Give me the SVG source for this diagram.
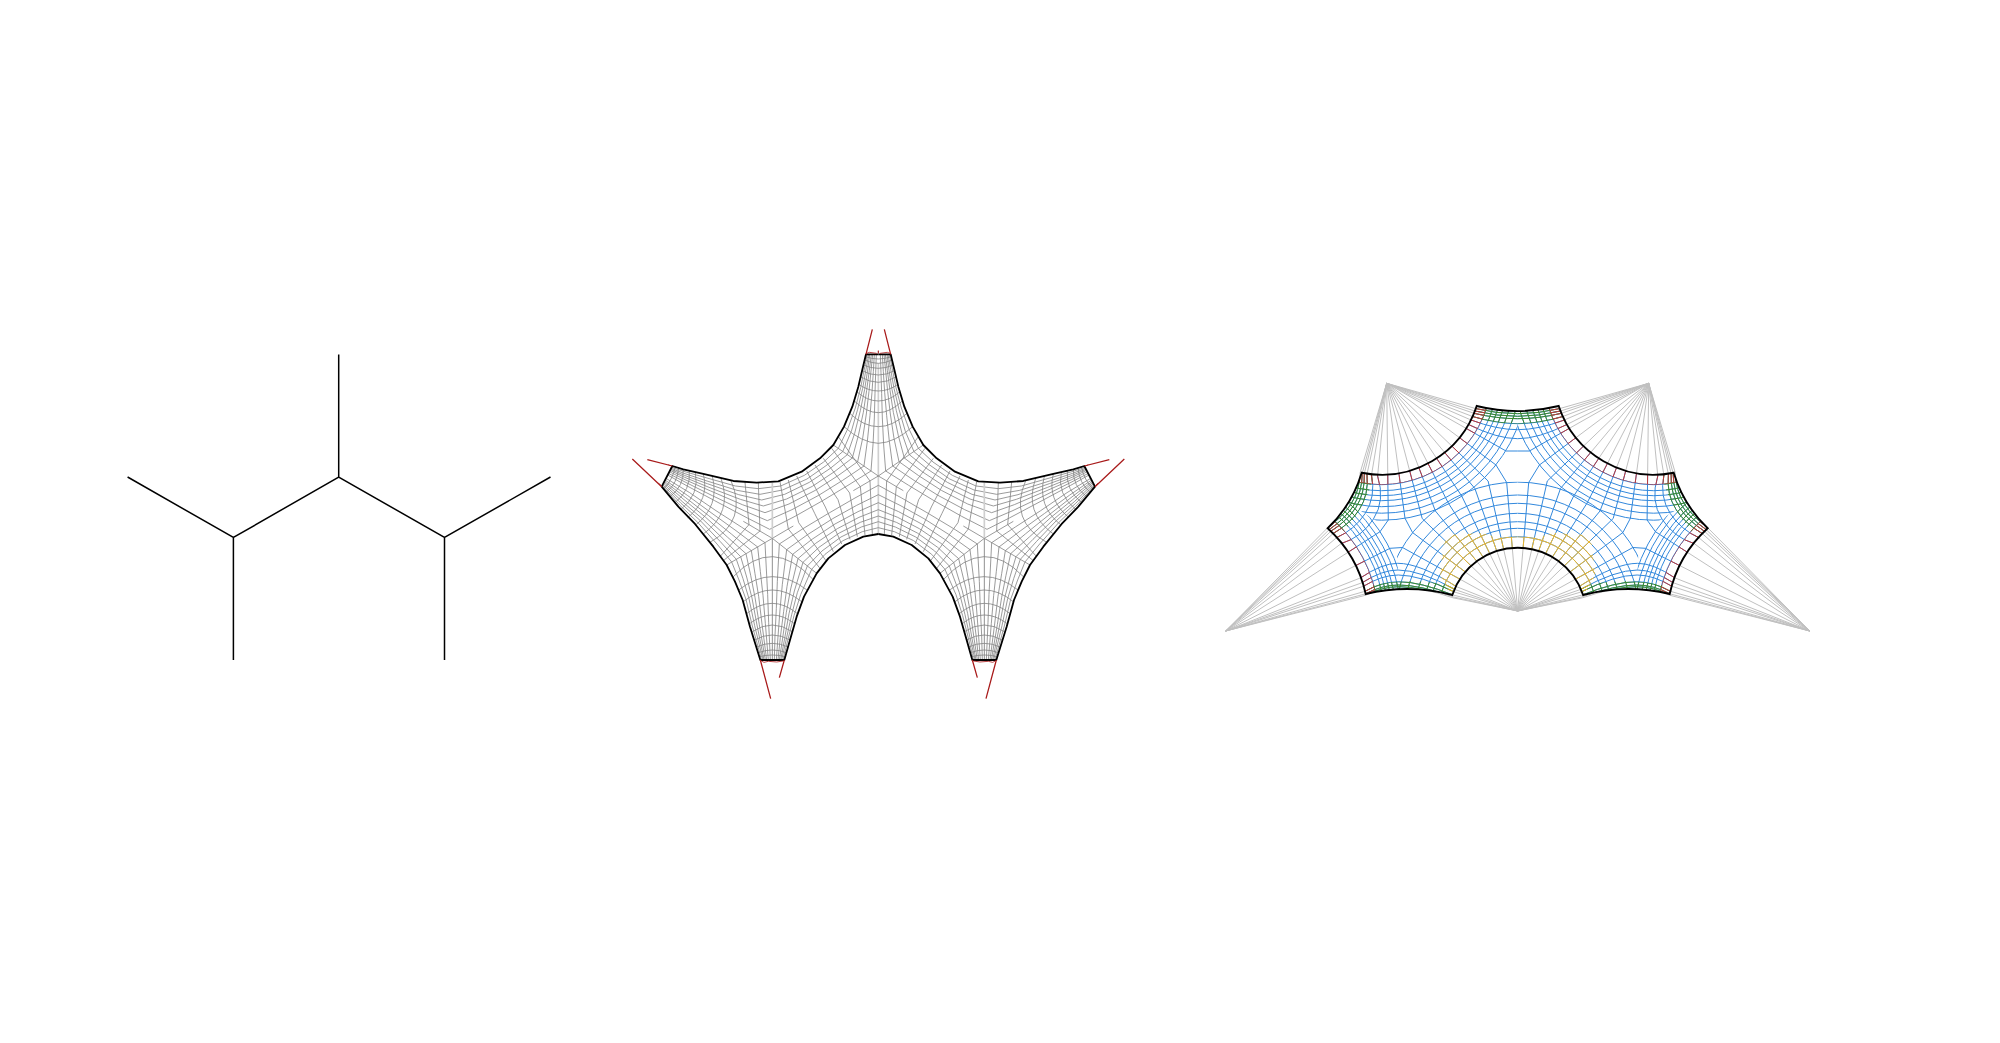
<svg xmlns="http://www.w3.org/2000/svg" width="2000" height="1043" viewBox="0 0 2000 1043">
<style>
.n{fill:none}
.tree{fill:none;stroke:#000;stroke-width:1.5}
.m2{fill:none;stroke:#828282;stroke-width:2.4;stroke-linejoin:round}
.ax{fill:none;stroke:#cfcfcf;stroke-width:5}
.ax2{fill:none;stroke:#808080;stroke-width:2.6}
.ol{fill:none;stroke:#000;stroke-width:5.4;stroke-linejoin:round}
.rd{fill:none;stroke:#a81a1a;stroke-width:3.8}
.rd2{fill:none;stroke:#a81a1a;stroke-width:2.4}
.ol3{fill:none;stroke:#000;stroke-width:1.9}
</style>
<defs>
<path id="dom" d="M1476.7,406A170.6,170.6 0 0 0 1558.7,406A100,100 0 0 0 1673.7,472.7A128,128 0 0 0 1707.7,528.3A125,125 0 0 0 1669.7,594A175.5,175.5 0 0 0 1583.1,595A68.9,68.9 0 0 0 1452.3,595A175.5,175.5 0 0 0 1365.7,594A125,125 0 0 0 1327.7,528.3A128,128 0 0 0 1361.7,472.7A100,100 0 0 0 1476.7,406Z"/>
<clipPath id="cDom"><use href="#dom"/></clipPath>
<clipPath id="cUL"><polygon points="1348.3,502.7 1384,526 1388,521 1405.5,519.3 1409,526 1455,505 1501.3,473.5 1496,466 1506,452 1517.7,452 1517.7,300 1280,300 1280,450"/></clipPath>
<clipPath id="cL"><polygon points="1348.3,502.7 1384,526 1381,531 1391,548.6 1396.7,548.6 1399,589.4 1399,700 1180,700 1180,450"/></clipPath>
<clipPath id="cI"><polygon points="1399,589.4 1396.7,548.3 1402,546.5 1411.5,532 1409,526 1451,497 1501.3,473.5 1506.7,481.5 1517.7,481.5 1517.7,700 1399,700"/></clipPath>
<clipPath id="cGreen">
<path clip-rule="evenodd" d="M1347.1,240.4a170.6,170.6 0 1 0 341.2,0a170.6,170.6 0 1 0 -341.2,0ZM1334.7,240.4a183,183 0 1 0 366,0a183,183 0 1 0 -366,0Z"/>
<path clip-rule="evenodd" d="M1110.2,438.3a128,128 0 1 0 256,0a128,128 0 1 0 -256,0ZM1097.2,438.3a141,141 0 1 0 282,0a141,141 0 1 0 -282,0Z"/>
<path clip-rule="evenodd" d="M1235.3,764.6a175.5,175.5 0 1 0 351,0a175.5,175.5 0 1 0 -351,0ZM1227.3,764.6a183.5,183.5 0 1 0 367,0a183.5,183.5 0 1 0 -367,0Z"/>
</clipPath>
<clipPath id="cRed">
<path clip-rule="evenodd" d="M1281.7,374.7a100,100 0 1 0 200,0a100,100 0 1 0 -200,0ZM1271.7,374.7a110,110 0 1 0 220,0a110,110 0 1 0 -220,0Z"/>
<path clip-rule="evenodd" d="M1118.6,620.8a125,125 0 1 0 250,0a125,125 0 1 0 -250,0ZM1108.6,620.8a135,135 0 1 0 270,0a135,135 0 1 0 -270,0Z"/>
</clipPath>
<clipPath id="cYel"><polygon points="1449.3,535 1480,533 1500,537.5 1517.7,536.5 1517.7,570 1470,605 1451.7,596 1440,575 1444,541.7"/></clipPath>
<g id="cross3" class="n">
<path d="M1386.7,383.3L1475.8,408.6Q1497,413.7 1517.7,413.7M1386.7,383.3L1474.9,411Q1497,416.3 1517.7,416.3M1386.7,383.3L1474,413.3Q1497,418.7 1517.7,418.7M1386.7,383.3L1472.5,416.5Q1497,423.7 1517.7,423.7M1386.7,383.3L1471,420Q1497,429.7 1517.7,429.7M1386.7,383.3L1468.5,424.5Q1497,438.7 1517.7,438.7M1386.7,383.3L1506,451L1517.7,451"/>
<path d="M1386.7,383.3L1405,518.3L1412.5,532.5L1517.7,611M1386.7,383.3L1422.2,518.5L1517.7,611M1386.7,383.3L1435.4,511L1517.7,611M1386.7,383.3L1448.6,503.5L1517.7,611M1386.7,383.3L1461.7,496L1517.7,611M1386.7,383.3L1474.9,488.5L1517.7,611M1386.7,383.3L1488.1,481L1517.7,611M1386.7,383.3L1496,465L1506.7,482.5L1517.7,611"/>
<path d="M1386.7,383.3L1360.2,472.5Q1359.6,490.9 1350.8,504.3Q1342.6,516.9 1327.4,528L1225.7,631M1386.7,383.3L1362.3,473Q1362,492.6 1353.3,506Q1345.1,518.6 1329.2,529.6L1225.7,631M1386.7,383.3L1364.3,473.5Q1365.1,493.4 1355.8,507.6Q1347,521 1330.8,531.3L1225.7,631M1386.7,383.3L1367,474.1Q1369,494.7 1359.2,509.8Q1349.9,524 1332.9,533.7L1225.7,631M1386.7,383.3L1371.5,475.1Q1376,496.8 1365.1,513.6Q1354.7,529.5 1336.4,537.8L1225.7,631M1386.7,383.3L1377.6,475.9Q1385.4,500.7 1373.4,519.1Q1361.4,537.5 1341.1,543.6L1225.7,631M1386.7,383.3L1388.3,520L1380,531.7L1225.7,631"/>
<path d="M1225.7,631L1365.9,595.2Q1382,586.7 1399,586.7Q1420,586.7 1453,597.8L1517.7,611M1225.7,631L1365.6,593.8Q1382,585 1398.9,585Q1420,585 1453.2,596.9L1517.7,611M1225.7,631L1365,591.3Q1382,581.7 1398.7,581.7Q1420,581.7 1453.7,595.2L1517.7,611M1225.7,631L1363.4,586.3Q1382,575 1398.3,575Q1420,575 1454.5,592L1517.7,611M1225.7,631L1362.2,582.7Q1382,570 1398,570Q1420,570 1455.2,589.6L1517.7,611M1225.7,631L1360.5,577.9Q1382,563.3 1397.7,563.3Q1420,563.3 1456.4,586.6L1517.7,611M1225.7,631L1390,548.3L1402.5,547.5L1517.7,611"/>
</g>
<g id="grid3" class="n">
<use href="#cross3"/>
<g clip-path="url(#cUL)">
<circle cx="1381.7" cy="374.7" r="110"/><circle cx="1381.7" cy="374.7" r="116"/><circle cx="1381.7" cy="374.7" r="121"/><circle cx="1381.7" cy="374.7" r="126"/><circle cx="1381.7" cy="374.7" r="132"/><circle cx="1381.7" cy="374.7" r="138.5"/><circle cx="1381.7" cy="374.7" r="145.5"/>
</g>
<g clip-path="url(#cL)">
<circle cx="1243.6" cy="620.8" r="135"/><circle cx="1243.6" cy="620.8" r="141"/><circle cx="1243.6" cy="620.8" r="145"/><circle cx="1243.6" cy="620.8" r="149"/><circle cx="1243.6" cy="620.8" r="153"/><circle cx="1243.6" cy="620.8" r="158"/><circle cx="1243.6" cy="620.8" r="163"/>
</g>
<g clip-path="url(#cI)">
<circle cx="1517.7" cy="616.6" r="79.9"/><circle cx="1517.7" cy="616.6" r="88.3"/><circle cx="1517.7" cy="616.6" r="94.9"/><circle cx="1517.7" cy="616.6" r="103.3"/><circle cx="1517.7" cy="616.6" r="113.3"/><circle cx="1517.7" cy="616.6" r="121.6"/><circle cx="1517.7" cy="616.6" r="134.5"/>
</g>
</g>
<g id="half3">
<use href="#grid3" stroke="#3288dc" stroke-width="1"/>
<g clip-path="url(#cGreen)"><use href="#grid3" stroke="#3f8a2c" stroke-width="1"/></g>
<g clip-path="url(#cYel)"><use href="#grid3" stroke="#f0b72a" stroke-width="1"/></g>
<g clip-path="url(#cRed)"><use href="#grid3" stroke="#c0393b" stroke-width="1"/></g>
</g>
<g id="half2">
<g id="rows2" class="m2">
<polyline points="742,103 733,147 722,203 706,264 683,327 655,385 611,426 553,466 482,498 415,506 346,498 254,472 191,454 155,442"/>
<polyline points="746,103 738,148 728,205 713,268 694,334 668,395 621,435 561,477 488,510 420,523 351,511 258,482 192,460 153,445"/>
<polyline points="749,103 743,150 734,208 721,272 704,340 682,404 631,445 568,487 494,523 425,540 356,524 262,491 193,466 152,448"/>
<polyline points="754,103 748,151 740,211 730,277 715,347 697,414 642,456 577,499 500,537 430,558 361,538 267,502 194,472 150,451"/>
<polyline points="758,103 753,153 747,214 739,282 728,355 713,425 654,467 586,511 507,552 435,578 367,554 272,513 195,479 148,455"/>
<polyline points="763,103 760,155 756,217 750,287 742,364 732,438 668,481 596,526 516,569 442,602 374,573 277,527 197,487 145,460"/>
<polyline points="769,103 767,158 765,221 763,294 759,375 753,453 684,496 608,542 525,589 449,628 382,594 284,542 198,496 143,465"/>
<polyline points="127,497 179,555 233,607 291,672 335,726 357,780 378,838 397,918 425,1020"/>
<polyline points="128,494 183,550 241,602 301,665 349,718 369,776 387,836 404,917 429,1020"/>
<polyline points="130,491 187,545 248,597 311,658 362,710 380,771 396,834 411,915 432,1020"/>
<polyline points="131,487 192,539 257,592 322,651 378,701 392,766 405,832 418,914 436,1020"/>
<polyline points="133,484 197,533 266,587 334,642 394,692 405,761 416,829 426,912 440,1020"/>
<polyline points="135,480 202,526 276,580 348,632 413,681 421,754 429,826 436,910 445,1020"/>
<polyline points="138,475 209,518 288,572 364,621 435,668 439,747 443,823 446,907 451,1020"/>
<polyline points="489,1020 504,958 522,887 542,824 575,748 615,703 669,662 727,635 775,623"/>
<polyline points="485,1020 499,957 515,884 532,818 562,738 606,693 663,651 724,621 775,605"/>
<polyline points="482,1020 494,955 507,881 523,813 549,727 597,682 658,639 721,607 775,588"/>
<polyline points="478,1020 488,954 499,877 512,807 534,716 587,670 652,626 717,592 775,569"/>
<polyline points="474,1020 481,952 491,874 501,800 518,703 576,658 645,612 714,575 775,548"/>
<polyline points="469,1020 474,950 480,870 487,793 500,689 564,643 638,596 710,556 775,524"/>
<polyline points="463,1020 465,947 469,865 472,784 478,672 549,626 629,578 705,534 775,496"/>
</g>
<g id="cross2" class="m2">
<path d="M736,110Q755,117 775,117M734,120Q755,130 775,130M730,135Q752,145 775,145M726,152Q750,165 775,165M721,170Q748,187 775,187M716,193Q745,213 775,213M710,215Q742,243 775,243M703,243Q740,278 775,278M689,280Q732,320 775,320M672,320Q725,368 775,370M640,375L775,468"/>
<polyline points="480,485 505,627 600,745"/><polyline points="505,480 536,608 618,722"/><polyline points="530,468 584,580 640,695"/><polyline points="560,453 616,561 665,672"/><polyline points="585,435 654,539 690,658"/><polyline points="610,415 689,519 712,650"/><polyline points="635,385 721,500 735,645"/><polyline points="655,350 750,483 757,642"/>
<polyline points="457,655 520,618"/><polyline points="775,468 700,512"/><polyline points="457,655 370,604"/><polyline points="457,655 320,735"/><polyline points="457,655 590,760"/>
<path d="M166,440Q157.5,480.5 131,507M176,443Q172.5,490 139,517M190,447Q192,499.5 150,530M208,452Q213.5,510 165,548M226,456Q240,523.5 182,569M250,462Q269.5,538.5 203,593M277,469Q300,558 227,615M303,475Q339.5,577.5 250,642M333,482Q384.5,601.5 270,667"/>
<polyline points="375,486 387,614 300,710"/><polyline points="415,488 420,633 310,722"/>
<path d="M418,1010Q457,1000 496,1010M415,998Q457,982 499,998M410,981Q457,959 504,981M404,960Q457,930 510,960M397,935Q457,895 517,935M390,910Q457,860 522,910M381,880Q457,820 531,880M370,845Q457,775 545,845M356,810Q457,730 561,810M340,770Q457,646 579,778"/>
</g>
<path class="ax" d="M457,488V655"/>
<path class="ax2" d="M457,655V1020"/>
<polyline class="ol" points="775,103 738,103 728,145 715,200 697,260 672,320 640,375 600,415 545,455 475,484 410,488 340,483 250,462 190,448 157,438 125,500 175,560 225,612 280,680 320,735 345,785 368,840 390,920 421,1020 493,1020 510,960 530,890 552,830 590,760 625,715 675,675 730,650 775,642"/>
<path class="rd" d="M738,103L757,28M125,500L37,417M157,438L82,419M421,1020L452,1136M493,1020L478,1073"/>
<path class="rd2" d="M740,100L748,97L770,100M775,100V92M123,496L116,490M150,437L145,434M424,1023L432,1027L445,1024L470,1026L490,1023"/>
</g>
</defs>

<g id="tree">
<path class="tree" d="M127.6,477L233.4,537.5L338.7,477L444.5,537.5L550.5,477M338.7,477V354.6M233.4,537.5V660M444.5,537.5V660"/>
</g>

<g id="mesh" transform="translate(620,320) scale(.33333)">
<path class="ax" d="M775,130V642"/>
<use href="#half2"/>
<use href="#half2" transform="translate(1550,0) scale(-1,1)"/>
</g>

<g id="hyperbolic">
<g id="fans" stroke="#c0c0c0" stroke-width="1">
<use href="#cross3"/>
<use href="#cross3" transform="translate(3035.4,0) scale(-1,1)"/>
</g>
<use href="#dom" fill="#fff"/>
<g clip-path="url(#cDom)">
<use href="#half3"/>
<use href="#half3" transform="translate(3035.4,0) scale(-1,1)"/>
</g>
<use href="#dom" class="ol3"/>
</g>
</svg>
